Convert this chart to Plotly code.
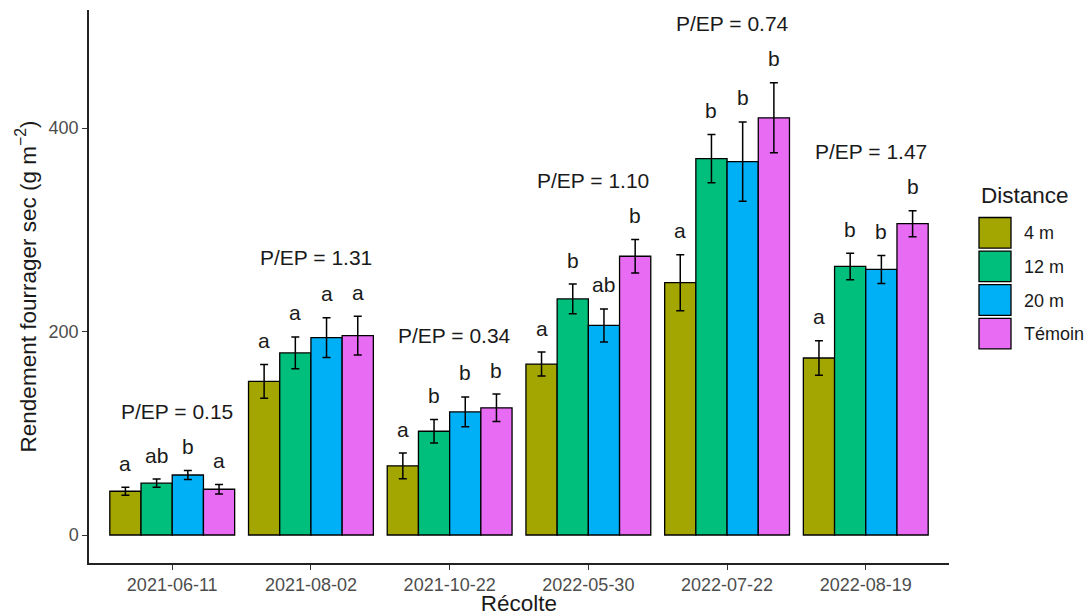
import plotly.graph_objects as go

# Harvest dates and treatments
dates = ["2021-06-11", "2021-08-02", "2021-10-22", "2022-05-30", "2022-07-22", "2022-08-19"]
distances = ["4 m", "12 m", "20 m", "Témoin"]

# Mean dry forage yield (g m-2) per treatment
yield_4m = [43, 151, 68, 168, 248, 174]
yield_12m = [51, 179, 102, 232, 370, 264]
yield_20m = [59, 194, 121, 206, 367, 261]
yield_temoin = [45, 196, 125, 274, 410, 306]

# Standard errors
se_4m = [4, 16.5, 12.6, 11.8, 27.5, 17]
se_12m = [4, 15.7, 11.5, 14.6, 23.7, 13]
se_20m = [4.5, 19.6, 14.7, 16.2, 39, 13.8]
se_temoin = [4.7, 19, 13.5, 16.4, 34.4, 12.8]

# Significance letters
letters_4m = ["a", "a", "a", "a", "a", "a"]
letters_12m = ["ab", "a", "b", "b", "b", "b"]
letters_20m = ["b", "a", "b", "ab", "b", "b"]
letters_temoin = ["a", "a", "b", "b", "b", "b"]

# P/EP ratio per harvest
pep = ["0.15", "1.31", "0.34", "1.10", "0.74", "1.47"]

means = [yield_4m, yield_12m, yield_20m, yield_temoin]
ses = [se_4m, se_12m, se_20m, se_temoin]
letters = [letters_4m, letters_12m, letters_20m, letters_temoin]
colors = ["#A3A500", "#00BF7D", "#00B0F6", "#E76BF3"]

FONT = "Liberation Sans, Arial, sans-serif"
TXT = "#1a1a1a"
bar_w = 0.9 / len(distances)

fig = go.Figure()
annotations = []

for k, name in enumerate(distances):
    xs = [i + 1 + (k - 1.5) * bar_w for i in range(len(dates))]
    fig.add_trace(go.Bar(
        x=xs, y=means[k], width=bar_w, name=name,
        marker=dict(color=colors[k], line=dict(color="black", width=1.3)),
        error_y=dict(type="data", array=ses[k], visible=True,
                     color="black", thickness=1.5, width=4),
        showlegend=False,
    ))
    for x, m, s, lab in zip(xs, means[k], ses[k], letters[k]):
        annotations.append(dict(
            x=x, y=m + s, text=lab, showarrow=False, xref="x", yref="y",
            yanchor="middle", yshift=24,
            font=dict(family=FONT, size=21, color=TXT),
        ))

# P/EP labels above each harvest group
for i, txt in enumerate(pep):
    top = max(means[k][i] + ses[k][i] for k in range(len(distances)))
    annotations.append(dict(
        x=i + 1, y=top, text=f"P/EP = {txt}", showarrow=False, xref="x", yref="y",
        yanchor="middle", yshift=59, xshift=5,
        font=dict(family=FONT, size=21, color=TXT),
    ))

# Plot area in pixels
W, H = 1089, 616
L, R, T, B = 89, 949, 10, 563


def px(xp):
    return (xp - L) / (R - L)


def py(yp):
    return (B - yp) / (B - T)


# Legend drawn as keys + labels
shapes = []
annotations.append(dict(
    x=px(979), y=py(195), xref="paper", yref="paper", text="Distance",
    showarrow=False, xanchor="left", yanchor="middle",
    font=dict(family=FONT, size=22.5, color=TXT),
))
key_top, key_pitch, key_w, key_x = 216.5, 33.6, 34, 978
for k, name in enumerate(distances):
    y0 = key_top + k * key_pitch
    shapes.append(dict(
        type="rect", xref="paper", yref="paper",
        x0=px(key_x + 1), x1=px(key_x + key_w - 1),
        y0=py(y0 + key_pitch - 2), y1=py(y0 + 1),
        fillcolor=colors[k], line=dict(color="black", width=1.3),
    ))
    annotations.append(dict(
        x=px(1022), y=py(y0 + key_pitch / 2), xref="paper", yref="paper",
        text=name, showarrow=False, xanchor="left", yanchor="middle",
        font=dict(family=FONT, size=18, color=TXT),
    ))

fig.update_layout(
    width=W, height=H,
    margin=dict(l=L, r=W - R, t=T, b=H - B, pad=0, autoexpand=False),
    paper_bgcolor="white", plot_bgcolor="white",
    barmode="overlay",
    annotations=annotations, shapes=shapes,
    font=dict(family=FONT, color=TXT),
)

fig.update_xaxes(
    range=[0.4, 6.6], tickvals=list(range(1, len(dates) + 1)), ticktext=dates,
    showline=True, linecolor="#222222", linewidth=1.5,
    ticks="outside", ticklen=5, tickcolor="#333333", tickwidth=1.3,
    tickfont=dict(family=FONT, size=18, color="#4D4D4D"),
    showgrid=False, zeroline=False, automargin=False,
    title=dict(text="Récolte", font=dict(family=FONT, size=22.5, color=TXT), standoff=0),
)
fig.update_yaxes(
    range=[-27.5, 516], tickvals=[0, 200, 400],
    showline=True, linecolor="#222222", linewidth=1.5,
    ticks="outside", ticklen=5, tickcolor="#333333", tickwidth=1.3,
    tickfont=dict(family=FONT, size=18, color="#4D4D4D"),
    showgrid=False, zeroline=False, automargin=False,
    title=dict(text="Rendement fourrager sec (g m<sup>−2</sup>)",
               font=dict(family=FONT, size=22.5, color=TXT), standoff=6),
)

fig.write_html("out.html")
